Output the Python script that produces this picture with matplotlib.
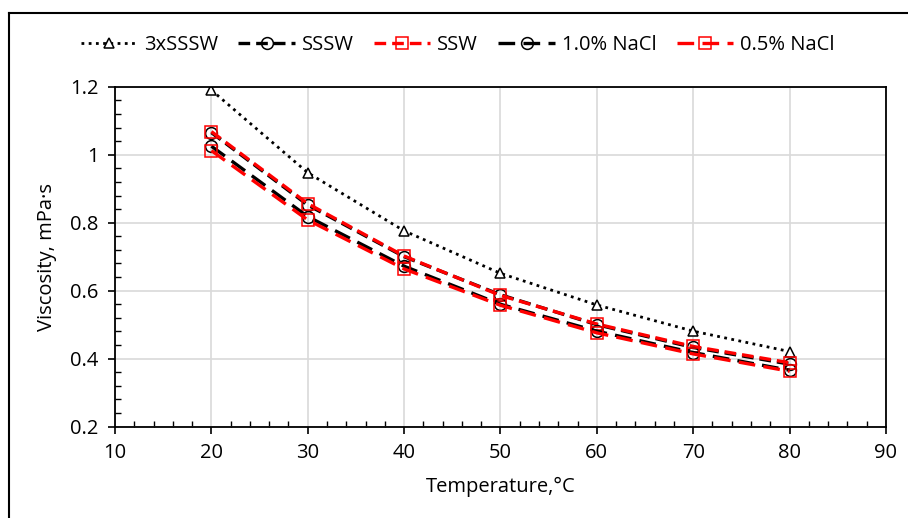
import matplotlib
matplotlib.use('Agg')
import matplotlib.pyplot as plt
from matplotlib.lines import Line2D
from matplotlib.ticker import MultipleLocator

plt.rcParams['font.family'] = ['Open Sans', 'DejaVu Sans']

temperature = [20, 30, 40, 50, 60, 70, 80]
sssw3x = [1.19, 0.947, 0.776, 0.651, 0.558, 0.481, 0.421]
sssw = [1.065, 0.852, 0.700, 0.588, 0.500, 0.433, 0.384]
ssw = [1.068, 0.856, 0.702, 0.586, 0.502, 0.436, 0.388]
nacl_10 = [1.025, 0.818, 0.672, 0.560, 0.481, 0.418, 0.366]
nacl_05 = [1.012, 0.808, 0.664, 0.557, 0.476, 0.414, 0.363]

fig = plt.figure(figsize=(9.08, 5.18), dpi=100)
ax = fig.add_axes([0.1267, 0.1763, 0.849, 0.6563])

ax.plot(temperature, sssw3x, color='black', linestyle=(0, (1, 1.6)), lw=2.0,
        marker='^', markersize=7, markerfacecolor='white', markeredgecolor='black',
        markeredgewidth=1.1, label='3xSSSW')
ax.plot(temperature, sssw, color='black', linestyle=(0, (3.5, 1.8)), lw=2.4,
        marker='o', markersize=8.5, markerfacecolor='none', markeredgecolor='black',
        markeredgewidth=1.1, label='SSSW')
ax.plot(temperature, ssw, color='red', linestyle=(0, (3.5, 1.8)), lw=2.4,
        marker='s', markersize=8.5, markerfacecolor='none', markeredgecolor='red',
        markeredgewidth=1.1, label='SSW')
ax.plot(temperature, nacl_10, color='black', linestyle=(0, (5, 2.5)), lw=2.4,
        marker='o', markersize=8.5, markerfacecolor='none', markeredgecolor='black',
        markeredgewidth=1.1, label='1.0% NaCl')
ax.plot(temperature, nacl_05, color='red', linestyle=(0, (5, 2.5)), lw=2.4,
        marker='s', markersize=8.5, markerfacecolor='none', markeredgecolor='red',
        markeredgewidth=1.1, label='0.5% NaCl')

ax.set_xlim(10, 90)
ax.set_ylim(0.2, 1.2)
ax.xaxis.set_major_locator(MultipleLocator(10))
ax.xaxis.set_minor_locator(MultipleLocator(2))
ax.yaxis.set_minor_locator(MultipleLocator(0.04))
ax.set_yticks([0.2, 0.4, 0.6, 0.8, 1.0, 1.2])
ax.set_yticklabels(['0.2', '0.4', '0.6', '0.8', '1', '1.2'])

ax.tick_params(which='major', direction='out', length=5, width=1.2, labelsize=14.5, pad=7)
ax.tick_params(which='minor', direction='in', length=4, width=1.0)
ax.grid(which='major', color='#d9d9d9', lw=1.2)
ax.set_axisbelow(True)
for s in ax.spines.values():
    s.set_color('black')
    s.set_linewidth(1.3)

ax.set_xlabel('Temperature,°C', fontsize=14.5, labelpad=10)
ax.set_ylabel('Viscosity, mPa·s', fontsize=14.5, labelpad=9)

fig.legend(loc='center', bbox_to_anchor=(0.504, 0.913), ncol=5, frameon=False,
           fontsize=14.5, handlelength=2.8, columnspacing=1.0, handletextpad=0.35)

# chart frame (left and top edges visible)
fig.add_artist(Line2D([0.0099, 0.0099], [0.0, 0.975], color='black', lw=1.5,
                      transform=fig.transFigure))
fig.add_artist(Line2D([0.0099, 1.0], [0.975, 0.975], color='black', lw=1.5,
                      transform=fig.transFigure))

fig.savefig('out.png', dpi=100)
